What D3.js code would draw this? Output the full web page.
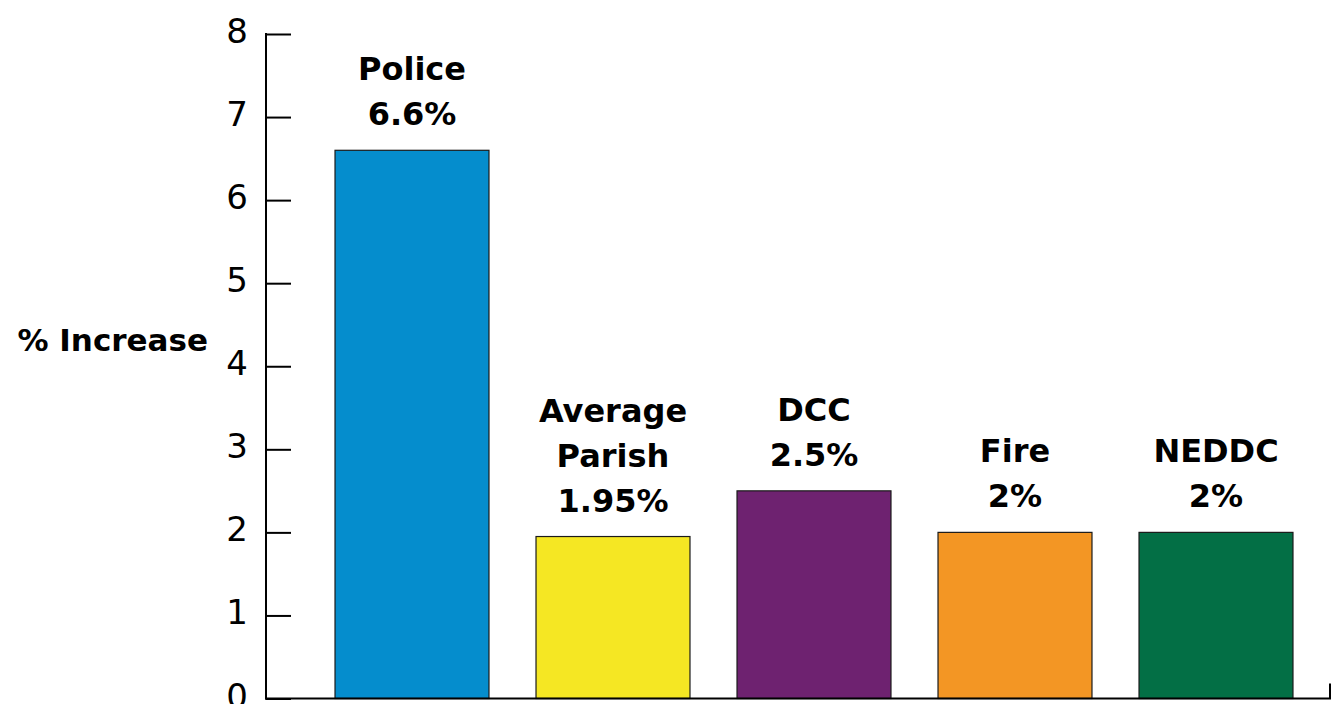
<!DOCTYPE html>
<html>
<head>
<meta charset="utf-8">
<script src="https://cdn.jsdelivr.net/npm/d3@7"></script>
<style>
  html, body { margin: 0; padding: 0; background: #fff; }
  svg { display: block; }
</style>
</head>
<body>
<svg id="chart" width="1333" height="704"></svg>
<script>
const categories = ["Police", "Average Parish", "DCC", "Fire", "NEDDC"];
const labelLines = [["Police", "6.6%"], ["Average", "Parish", "1.95%"], ["DCC", "2.5%"], ["Fire", "2%"], ["NEDDC", "2%"]];
const values = [6.6, 1.95, 2.5, 2, 2];
const colors = ["#058DCD", "#F5E723", "#6E2270", "#F39624", "#036F45"];
const yTicks = [0, 1, 2, 3, 4, 5, 6, 7, 8];
const yTitle = "% Increase";

const svg = d3.select("#chart");
const font = "'DejaVu Sans', Verdana, sans-serif";

const y = d3.scaleLinear().domain([0, 8]).range([698.5, 34]);
const x = d3.scaleBand().domain(categories).range([311.5, 1316.5])
  .paddingInner(0.234).paddingOuter(0.117);

const axisX = 266, axisRight = 1330;

// bars
svg.append("g").selectAll("rect").data(values).join("rect")
  .attr("x", (d, i) => x(categories[i]))
  .attr("width", x.bandwidth())
  .attr("y", d => y(d))
  .attr("height", d => y(0) - y(d))
  .attr("fill", (d, i) => colors[i])
  .attr("stroke", "#1a1a1a")
  .attr("stroke-width", 1.2);

// y axis
const yAxis = d3.axisRight(y).tickValues(yTicks).tickSize(25).tickFormat("");
const gy = svg.append("g").attr("transform", `translate(${axisX},0)`).call(yAxis);
gy.select(".domain").remove();
gy.selectAll(".tick line").attr("stroke", "#000").attr("stroke-width", 2);
svg.append("line").attr("x1", axisX).attr("x2", axisX).attr("y1", y(8) - 1).attr("y2", y(0) + 1)
  .attr("stroke", "#000").attr("stroke-width", 2);

// tick labels
svg.append("g").selectAll("text").data(yTicks).join("text")
  .attr("x", 248).attr("y", d => y(d) + 9)
  .attr("text-anchor", "end")
  .attr("font-family", font).attr("font-size", 34).attr("fill", "#000")
  .text(d => d);

// x axis
svg.append("line").attr("x1", axisX - 1).attr("x2", axisRight + 1).attr("y1", y(0)).attr("y2", y(0))
  .attr("stroke", "#000").attr("stroke-width", 2);
svg.append("line").attr("x1", axisRight).attr("x2", axisRight).attr("y1", y(0)).attr("y2", y(0) - 15)
  .attr("stroke", "#000").attr("stroke-width", 2);

// y title
svg.append("text").attr("x", 208).attr("y", 351).attr("text-anchor", "end")
  .attr("font-family", font).attr("font-size", 31).attr("font-weight", "bold")
  .text(yTitle);

// bar labels
const lh = 45;
const lg = svg.append("g");
values.forEach((v, i) => {
  const lines = labelLines[i];
  const cx = x(categories[i]) + x.bandwidth() / 2;
  const lastBase = y(v) - 25;
  const t = lg.append("text").attr("text-anchor", "middle")
    .attr("font-family", font).attr("font-size", 32).attr("font-weight", "bold")
    .attr("fill", "#000");
  lines.forEach((ln, j) => {
    t.append("tspan").attr("x", cx).attr("y", lastBase - (lines.length - 1 - j) * lh).text(ln);
  });
});
</script>
</body>
</html>
